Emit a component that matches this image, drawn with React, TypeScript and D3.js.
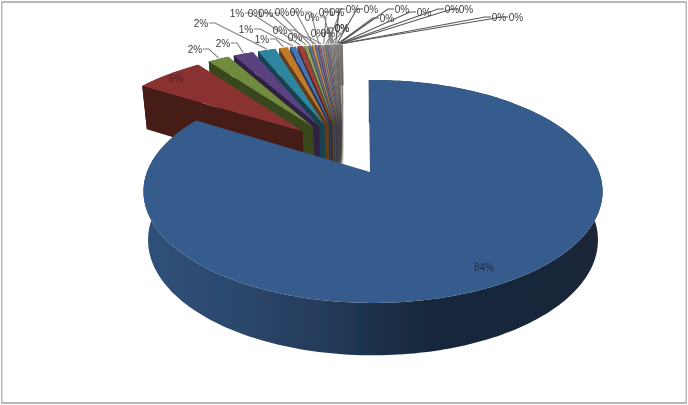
import React from "react";
import * as d3 from "d3";

// Data, clockwise from the top of the pie
const sliceLabels = ["84%","6%","2%","2%","2%","1%","1%","1%",
  "0%","0%","0%","0%","0%","0%","0%","0%","0%","0%","0%","0%","0%","0%","0%","0%","0%","0%","0%","0%","0%","0%"];
const sliceValues = [84,6,1.9,1.8,1.6,0.8,0.55,0.5,
  0.3,0.25,0.22,0.2,0.18,0.17,0.16,0.15,0.14,0.12,0.11,0.1,0.1,0.09,0.08,0.08,0.07,0.06,0.05,0.05,0.04,0.03];
const palette = ["#365c8c","#8a3331","#6f8b3c","#5a4280","#2f85a0","#c27a2c",
  "#4576b4","#a03f3e","#8fa55a","#5f6f9a","#c8924e","#5a7aa8",
  "#9a5a6a","#7f90a8","#b0885a","#6a7f9a","#8d7080","#7a8a98",
  "#9a8a78","#8a8a90","#8f8a88","#87807e","#8a8078","#7f7a78",
  "#8a8480","#857e7a","#8a8078","#807a76","#8a8480","#7d7672"];

// Layout of label text: [x, y] centres; index follows the slices
const labelPlaces: [number, number][] = [
  [484,267],[176,78],[195,49],[223,43],[201,23],[262,39],[246,29],[237,13],
  [255,13],[266,13],[282,12],[280,30],[297,12],[295,37],[312,17],[318,33],[326,12],[328,33],[337,12],[342,28],[342,28],
  [353,9],[371,9],[387,18],[402,9],[424,12],[452,9],[466,9],[499,17],[516,17]];

const W = 688, H = 405;
const X0 = 373, Y0 = 172, A = 108, B = 226, K = 0.175, EXPLODE = 0.261;
const START = -0.022;
const BIG_TIP_SHIFT = -3;
const CG: [number, number] = [-0.14, 0.228];

function proj(X: number, Y: number, low = false): [number, number] {
  const w = 1 + K * Y;
  const x = X0 + (B * X) / w;
  const y = Y0 - (A * Y) / w;
  if (!low) return [x, y];
  return [X0 + (x - X0) * 0.98, y + 47.7 - 4.7 * Y];
}

const line = d3.line();
const shade = (c: string, f: number) => {
  const r = d3.rgb(c);
  return d3.rgb(r.r * f, r.g * f, r.b * f).formatHex();
};

export default function App() {
  const arcs = d3.pie<number>().sort(null).startAngle(START).endAngle(START + 2 * Math.PI)(sliceValues);
  const items = arcs.map((a, i) => {
    const mid = (a.startAngle + a.endAngle) / 2;
    const apex: [number, number] = i === 0
      ? [0, 0]
      : [CG[0] + EXPLODE * Math.sin(mid), CG[1] + EXPLODE * Math.cos(mid)];
    const n = Math.max(2, Math.ceil((a.endAngle - a.startAngle) / 0.02));
    const angles = d3.range(n + 1).map(k => a.startAngle + ((a.endAngle - a.startAngle) * k) / n);
    const rim = angles.map(t => [apex[0] + Math.sin(t), apex[1] + Math.cos(t)] as [number, number]);
    const tipTop = proj(apex[0], apex[1]);
    if (i === 0) tipTop[0] += BIG_TIP_SHIFT;
    const top = [tipTop, ...rim.map(p => proj(p[0], p[1]))];
    const outer = [...rim.map(p => proj(p[0], p[1])), ...rim.slice().reverse().map(p => proj(p[0], p[1], true))];
    const first = rim[0];
    const wallA = [proj(apex[0], apex[1]), proj(first[0], first[1]), proj(first[0], first[1], true), proj(apex[0], apex[1], true)];
    const tip = proj(apex[0] + Math.sin(mid), apex[1] + Math.cos(mid));
    return { i, top, outer, wallA, tip, color: palette[i % palette.length] };
  });
  const order = items.slice(1).reverse().concat(items[0]);

  return (
    <svg width={W} height={H} viewBox={`0 0 ${W} ${H}`}
      style={{ position: "absolute", left: 0, top: 0, background: "#fff" }}>
      <defs>
        <filter id="soft" x="0" y="0" width="1" height="1">
          <feGaussianBlur stdDeviation="0.6" />
        </filter>
        <linearGradient id="bigWall" gradientUnits="userSpaceOnUse" x1="143" y1="0" x2="602" y2="0">
          <stop offset="0" stopColor="#2f5179" />
          <stop offset="0.23" stopColor="#2b466b" />
          <stop offset="0.4" stopColor="#243b5a" />
          <stop offset="0.52" stopColor="#1c2f48" />
          <stop offset="0.62" stopColor="#18283c" />
          <stop offset="1" stopColor="#1a2738" />
        </linearGradient>
      </defs>
      <g filter="url(#soft)">
        <rect x={1} y={1.5} width={W - 2} height={H - 3} fill="#fff" stroke="#b8b8b8" strokeWidth={3} />
        {order.map(s => (
          <g key={s.i}>
            <path d={line(s.outer) + "Z"} fill={s.i === 0 ? "url(#bigWall)" : shade(s.color, 0.5)} />
            {s.i !== 0 && <path d={line(s.wallA) + "Z"} fill={shade(s.color, 0.5)} />}
            <path d={line(s.top) + "Z"} fill={s.color} />
          </g>
        ))}
        {items.slice(2).map(s => {
          const [lx, ly] = labelPlaces[s.i];
          const sign = lx < s.tip[0] ? 1 : -1;
          const pts: [number, number][] = [[lx + sign * 8, ly], [lx + sign * 14, ly], [s.tip[0], s.tip[1] - 1]];
          return <path key={s.i} d={line(pts) ?? ""} fill="none" stroke={s.i > 20 ? "#555" : "#808080"} strokeWidth={1.1} />;
        })}
        {items.map(s => {
          const [lx, ly] = labelPlaces[s.i];
          return (
            <text key={s.i} x={lx} y={ly} dy="0.35em" textAnchor="middle"
              fontFamily="'Liberation Sans', Arial, sans-serif" fontSize={10}
              fill={s.i === 0 ? "#1f2d44" : s.i === 1 ? "#4a1c1c" : "#3c3c3c"}>
              {sliceLabels[s.i]}
            </text>
          );
        })}
      </g>
    </svg>
  );
}
